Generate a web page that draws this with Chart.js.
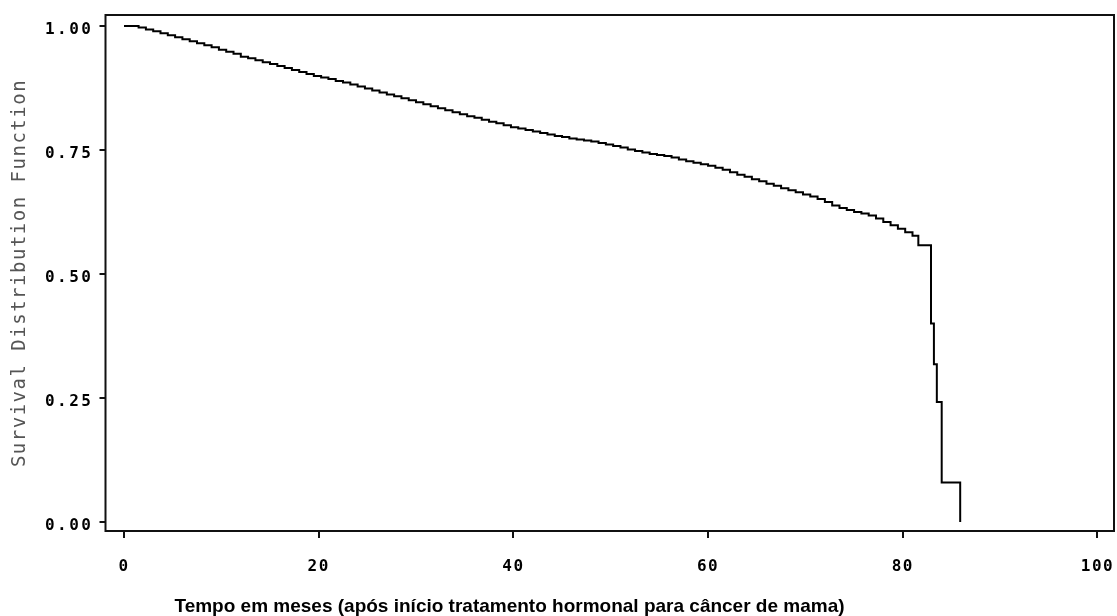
<!DOCTYPE html>
<html>
<head>
<meta charset="utf-8">
<script src="https://cdn.jsdelivr.net/npm/chart.js@4"></script>
<style>
  body { margin: 0; background: #fff; }
</style>
</head>
<body>
<canvas id="chart" width="1117" height="616"></canvas>
<script>
// months after start of hormonal treatment
const times = [0, 1.5, 2.25, 3, 3.75, 4.5, 5.25, 6, 6.75, 7.5, 8.25, 9, 9.75, 10.5,
  11.25, 12, 12.75, 13.5, 14.25, 15, 15.75, 16.5, 17.25, 18, 18.75, 19.5, 20.25, 21, 21.75, 22.5,
  23.25, 24, 24.75, 25.5, 26.25, 27, 27.75, 28.5, 29.25, 30, 30.75, 31.5, 32.25, 33,
  33.75, 34.5, 35.25, 36, 36.75, 37.5, 38.25, 39, 39.75, 40.5, 41.25, 42, 42.75, 43.5,
  44.25, 45, 45.75, 46.5, 47.25, 48, 48.75, 49.5, 50.25, 51, 51.75, 52.5, 53.25, 54,
  54.75, 55.5, 56.25, 57, 57.75, 58.5, 59.25, 60, 60.75, 61.5, 62.25, 63,
  63.75, 64.5, 65.25, 66, 66.75, 67.5, 68.25, 69, 69.75, 70.5, 71.25, 72, 72.75, 73.5,
  74.25, 75, 75.75, 76.5, 77.25, 78, 78.75, 79.5, 80.25, 81,
  81.6, 82.9, 83.2, 83.5, 84.0, 85.9];
// survival distribution function at each time
const survival = [1.000, 0.997, 0.993, 0.989, 0.985, 0.981, 0.977, 0.973, 0.969, 0.965, 0.961, 0.957, 0.952, 0.948,
  0.944, 0.938, 0.935, 0.931, 0.927, 0.923, 0.919, 0.915, 0.911, 0.907, 0.903, 0.899, 0.896, 0.893, 0.889, 0.886,
  0.882, 0.878, 0.874, 0.870, 0.866, 0.862, 0.858, 0.854, 0.850, 0.846, 0.842, 0.838, 0.834, 0.830,
  0.826, 0.822, 0.818, 0.815, 0.811, 0.807, 0.804, 0.800, 0.796, 0.793, 0.790, 0.787, 0.784, 0.781,
  0.778, 0.776, 0.773, 0.771, 0.769, 0.767, 0.764, 0.761, 0.758, 0.755, 0.751, 0.748, 0.745, 0.742,
  0.740, 0.738, 0.735, 0.731, 0.727, 0.724, 0.721, 0.718, 0.714, 0.710, 0.705, 0.700,
  0.696, 0.691, 0.687, 0.682, 0.678, 0.673, 0.669, 0.665, 0.660, 0.656, 0.651, 0.645, 0.638, 0.633,
  0.629, 0.625, 0.622, 0.618, 0.612, 0.605, 0.598, 0.591, 0.584, 0.577,
  0.558, 0.400, 0.318, 0.242, 0.080, 0.000];

const xTicks = [0, 20, 40, 60, 80, 100];
const yTicks = [0, 0.25, 0.5, 0.75, 1];
const xTitle = "Tempo em meses (após início tratamento hormonal para câncer de mama)";
const yTitle = "Survival Distribution Function";

const points = times.map((t, i) => ({ x: t, y: survival[i] }));

// SAS style spaced out text, applied per scale drawing step
function spaced(scale, fn, spacing) {
  if (scale["_sp_" + fn]) return;
  const orig = scale[fn];
  scale["_sp_" + fn] = true;
  scale[fn] = function (...args) {
    this.ctx.save();
    this.ctx.letterSpacing = spacing;
    orig.apply(this, args);
    this.ctx.restore();
  };
}

function noPad(s) {
  s.paddingLeft = 0;
  s.paddingRight = 0;
  s.paddingTop = 0;
  s.paddingBottom = 0;
}

const sasFrame = {
  id: "sasFrame",
  beforeDraw(chart) {
    spaced(chart.scales.y, "drawLabels", "2.5px");
    spaced(chart.scales.y, "drawTitle", "1.5px");
    spaced(chart.scales.x, "drawLabels", "1.5px");
  },
  afterDraw(chart) {
    const { ctx, chartArea } = chart;
    ctx.save();
    ctx.strokeStyle = "#111";
    ctx.lineWidth = 2;
    ctx.strokeRect(chartArea.left, chartArea.top,
      chartArea.right - chartArea.left, chartArea.bottom - chartArea.top);
    // x axis title sits left of centre in the original
    ctx.font = 'bold 19px "Liberation Sans", Arial, sans-serif';
    ctx.fillStyle = "#000";
    ctx.textAlign = "center";
    ctx.textBaseline = "alphabetic";
    ctx.fillText(xTitle, chartArea.left + 404, 612);
    ctx.restore();
  }
};

const tickFont = { family: '"DejaVu Sans Mono", monospace', size: 16, weight: "bold" };

new Chart(document.getElementById("chart"), {
  type: "line",
  data: {
    datasets: [{
      data: points,
      borderColor: "#000",
      borderWidth: 2,
      pointRadius: 0,
      stepped: "before",
      fill: false
    }]
  },
  options: {
    responsive: false,
    animation: false,
    layout: { padding: { top: 15, right: 3, left: 0, bottom: 0 } },
    plugins: {
      legend: { display: false },
      tooltip: { enabled: false }
    },
    scales: {
      x: {
        type: "linear",
        min: -1.9,
        max: 101.7,
        afterBuildTicks: (s) => { s.ticks = xTicks.map((v) => ({ value: v })); },
        afterFit: (s) => { s.height = 85; noPad(s); },
        border: { display: false },
        grid: { drawOnChartArea: false, drawTicks: true, tickLength: 7, color: "#111", lineWidth: 2 },
        ticks: {
          font: tickFont,
          color: "#000",
          padding: 19,
          maxRotation: 0,
          callback: (v) => String(v)
        }
      },
      y: {
        type: "linear",
        min: -0.018,
        max: 1.022,
        afterBuildTicks: (s) => { s.ticks = yTicks.map((v) => ({ value: v })); },
        afterFit: (s) => { s.width = 105.5; noPad(s); },
        border: { display: false },
        grid: { drawOnChartArea: false, drawTicks: true, tickLength: 6, color: "#111", lineWidth: 2 },
        ticks: {
          font: tickFont,
          color: "#000",
          padding: 6,
          labelOffset: 4,
          callback: (v) => Number(v).toFixed(2)
        },
        title: {
          display: true,
          text: yTitle,
          color: "#555",
          font: { family: '"DejaVu Sans Mono", monospace', size: 19, weight: "normal", lineHeight: 1.2 },
          padding: { top: 9, bottom: 0 }
        }
      }
    }
  },
  plugins: [sasFrame]
});
</script>
</body>
</html>
